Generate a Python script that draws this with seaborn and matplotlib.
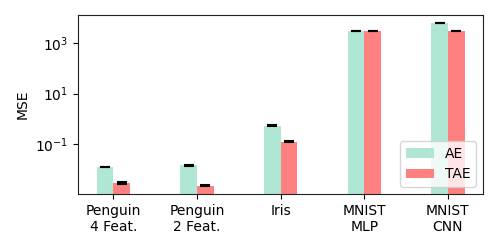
import matplotlib
matplotlib.use("Agg")
import matplotlib.pyplot as plt
import seaborn as sns
import pandas as pd
import numpy as np

categories = ["Penguin\n4 Feat.", "Penguin\n2 Feat.", "Iris", "MNIST\nMLP", "MNIST\nCNN"]
ae_mse = [0.0130, 0.0148, 0.55, 2980, 6200]
tae_mse = [0.0031, 0.0023, 0.128, 2950, 2950]
ae_err = [0.0002, 0.0003, 0.008, 30, 70]
tae_err = [0.0003, 0.0001, 0.002, 30, 30]
models = ["AE", "TAE"]
colors = {"AE": "#b0e6d4", "TAE": "#ff8080"}

df = pd.DataFrame({
    "dataset": categories * 2,
    "model": ["AE"] * len(categories) + ["TAE"] * len(categories),
    "mse": ae_mse + tae_mse,
    "err": ae_err + tae_err,
})

fig = plt.figure(figsize=(4.98, 2.49), dpi=100)
ax = fig.add_axes([0.157, 0.221, 0.813, 0.719])
ax.set_yscale("log")
sns.barplot(data=df, x="dataset", y="mse", hue="model", hue_order=models,
            order=categories, palette=colors, width=0.4, errorbar=None,
            saturation=1, ax=ax)

# error bars at the bar centres produced by seaborn
for patch in ax.patches:
    h = patch.get_height()
    if not np.isfinite(h) or h <= 0:
        continue
    xc = patch.get_x() + patch.get_width() / 2
    row = df.loc[(df["mse"] - h).abs().idxmin()]
    ax.errorbar(xc, row["mse"], yerr=row["err"], fmt="none", ecolor="black",
                elinewidth=1, capsize=3.5, capthick=1.5)

ax.set_ylim(1.1e-3, 1.26e4)
ax.set_xlim(-0.42, 4.42)
ax.set_xlabel("")
ax.set_ylabel("MSE", fontsize=10)
ax.tick_params(labelsize=10)
ax.minorticks_off()
ax.set_yticks([1e-1, 1e1, 1e3])
for s in ax.spines.values():
    s.set_visible(True)
    s.set_color("#222222")
leg = ax.legend(loc="lower right", fontsize=10, title=None)
fig.savefig("out.png", dpi=100)
